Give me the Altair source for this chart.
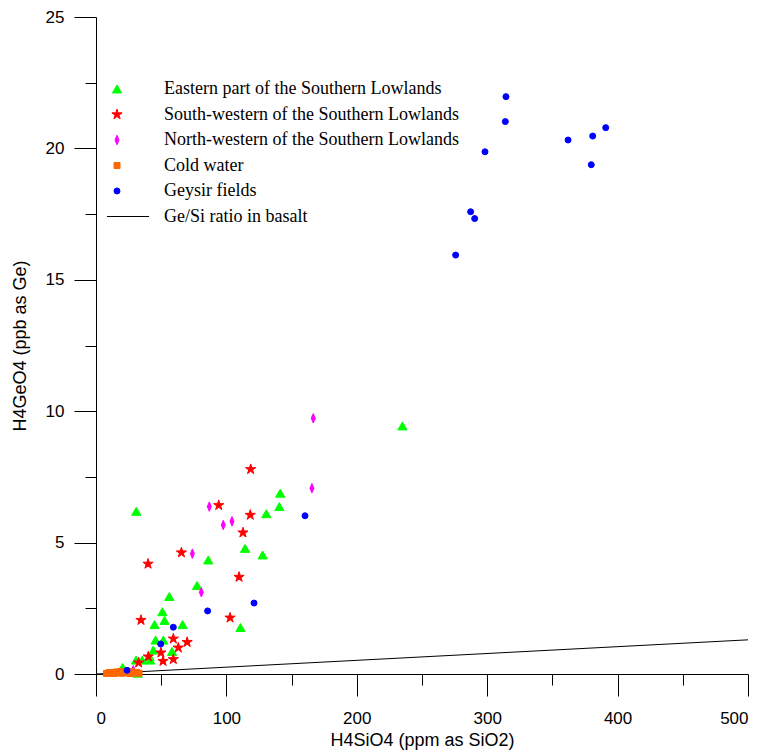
import altair as alt
import pandas as pd

groups = [
    "Eastern part of the Southern Lowlands",
    "South-western of the Southern Lowlands",
    "North-western of the Southern Lowlands",
    "Cold water",
    "Geysir fields",
    "Ge/Si ratio in basalt",
]

east_x = [235.0, 141.3, 140.6, 130.6, 114.3, 127.8, 86.1, 77.5, 110.8, 30.9, 56.2, 50.9, 52.6,
          44.9, 66.4, 45.7, 51.6, 58.3, 44.0, 41.6, 30.7, 35.5, 41.0, 20.4, 31.9, 25.0]
east_y = [9.44, 6.88, 6.37, 6.10, 4.78, 4.53, 4.34, 3.37, 1.77, 6.19, 2.95, 2.37, 2.04,
          1.88, 1.88, 1.29, 1.29, 0.86, 0.91, 0.53, 0.53, 0.53, 0.66, 0.25, 0.03, 0.10]

sw_x = [118.6, 94.1, 118.3, 112.7, 65.5, 39.9, 109.7, 34.5, 102.8, 59.3, 69.9, 63.1, 49.8,
        40.1, 59.3, 51.4, 32.7]
sw_y = [7.79, 6.42, 6.05, 5.38, 4.62, 4.19, 3.69, 2.05, 2.14, 1.34, 1.21, 1.00, 0.81,
        0.66, 0.56, 0.49, 0.43]

nw_x = [166.6, 165.6, 86.9, 104.3, 97.6, 73.9, 80.8, 28.6]
nw_y = [9.73, 7.07, 6.37, 5.81, 5.67, 4.58, 3.11, 0.14]

cold_x = [8, 10, 11, 13, 14, 16, 17, 19, 20, 22, 24, 26, 27, 29, 31, 33]
cold_y = [0.02, 0.05, 0.03, 0.06, 0.02, 0.08, 0.04, 0.10, 0.03, 0.07, 0.05, 0.02, 0.09,
          0.04, 0.06, 0.03]

geysir_x = [314.4, 313.9, 298.3, 287.3, 290.4, 275.8, 362.0, 380.9, 390.9, 379.8, 160.3,
            121.2, 85.6, 59.3, 49.6, 23.8]
geysir_y = [21.97, 21.02, 19.87, 17.59, 17.33, 15.94, 20.32, 20.47, 20.79, 19.38, 6.02,
            2.70, 2.40, 1.78, 1.14, 0.14]

basalt_x = [0, 500]
basalt_y = [0, 1.3]

x_major = [0, 100, 200, 300, 400, 500]
x_minor = [50, 150, 250, 350, 450]
y_major = [0, 5, 10, 15, 20, 25]
y_minor = [2.5, 7.5, 12.5, 17.5, 22.5]

colors = ["#00ff00", "#ff0000", "#ff00ff", "#ff6600", "#0000ff", "#000000"]
star = ("M0,-1L0.2234,-0.3074L0.951,-0.309L0.3614,0.1174L0.588,0.809L0,0.38"
        "L-0.588,0.809L-0.3614,0.1174L-0.951,-0.309L-0.2234,-0.3074Z")
diamond = "M0,-1L0.42,0L0,1L-0.42,0Z"
line_sym = "M-2,0L6.4,0"
shapes = ["triangle-up", star, diamond, "square", "circle", line_sym]
sizes = [85, 115, 90, 36, 36, 100]

rows = []
for g, xs, ys in [(groups[0], east_x, east_y), (groups[1], sw_x, sw_y), (groups[2], nw_x, nw_y),
                  (groups[3], cold_x, cold_y), (groups[4], geysir_x, geysir_y)]:
    for a, b in zip(xs, ys):
        rows.append({"x": a, "y": b, "group": g})
pts = pd.DataFrame(rows)
line_df = pd.DataFrame({"x": basalt_x, "y": basalt_y})

sans = "Liberation Sans"
serif = "Liberation Serif"

xscale = alt.Scale(domain=[0, 500], nice=False, zero=False)
yscale = alt.Scale(domain=[0, 25], nice=False, zero=False)

x_major_axis = alt.Axis(values=x_major, orient="bottom", tickSize=22, grid=False,
                        domainColor="black", tickColor="black", labelFont=sans,
                        labelFontSize=17, labelColor="black", labelPadding=14,
                        title="H4SiO4 (ppm as SiO2)", titleFont=sans, titleFontSize=18,
                        titleFontWeight="normal", titleColor="black", titlePadding=5)
y_major_axis = alt.Axis(values=y_major, orient="left", tickSize=22, grid=False,
                        domainColor="black", tickColor="black", labelFont=sans,
                        labelFontSize=17, labelColor="black", labelPadding=10,
                        title="H4GeO4 (ppb as Ge)", titleFont=sans, titleFontSize=18,
                        titleFontWeight="normal", titleColor="black", titlePadding=16)
x_minor_axis = alt.Axis(values=x_minor, orient="bottom", tickSize=11, grid=False,
                        labels=False, domain=False, tickColor="black", title="")
y_minor_axis = alt.Axis(values=y_minor, orient="left", tickSize=11, grid=False,
                        labels=False, domain=False, tickColor="black", title="")

line = alt.Chart(line_df).mark_line(color="black", strokeWidth=1).encode(
    x=alt.X("x:Q", scale=xscale, axis=x_major_axis),
    y=alt.Y("y:Q", scale=yscale, axis=y_major_axis),
)

leg = alt.Legend(orient="none", legendX=12, legendY=63, title=None, labelFont=serif,
                 labelFontSize=18, labelColor="black", labelOffset=38, rowPadding=7.5,
                 labelLimit=0, symbolStrokeWidth=1)

points = alt.Chart(pts).mark_point(filled=True, strokeWidth=1, opacity=1).encode(
    x=alt.X("x:Q", scale=xscale, axis=x_minor_axis),
    y=alt.Y("y:Q", scale=yscale, axis=y_minor_axis),
    fill=alt.Fill("group:N", scale=alt.Scale(domain=groups, range=colors), legend=leg),
    stroke=alt.Stroke("group:N", scale=alt.Scale(domain=groups, range=colors), legend=leg),
    shape=alt.Shape("group:N", scale=alt.Scale(domain=groups, range=shapes), legend=leg),
    size=alt.Size("group:N", scale=alt.Scale(type="ordinal", domain=groups, range=sizes),
                  legend=leg),
)

chart = alt.layer(line, points).resolve_axis(x="independent", y="independent").properties(
    width=652, height=657,
    autosize=alt.AutoSizeParams(type="none"),
    padding={"left": 96, "top": 17, "right": 16, "bottom": 77},
    background="white",
).configure_view(strokeWidth=0)

chart.save("out.html", embed_options={"renderer": "svg", "actions": False})
